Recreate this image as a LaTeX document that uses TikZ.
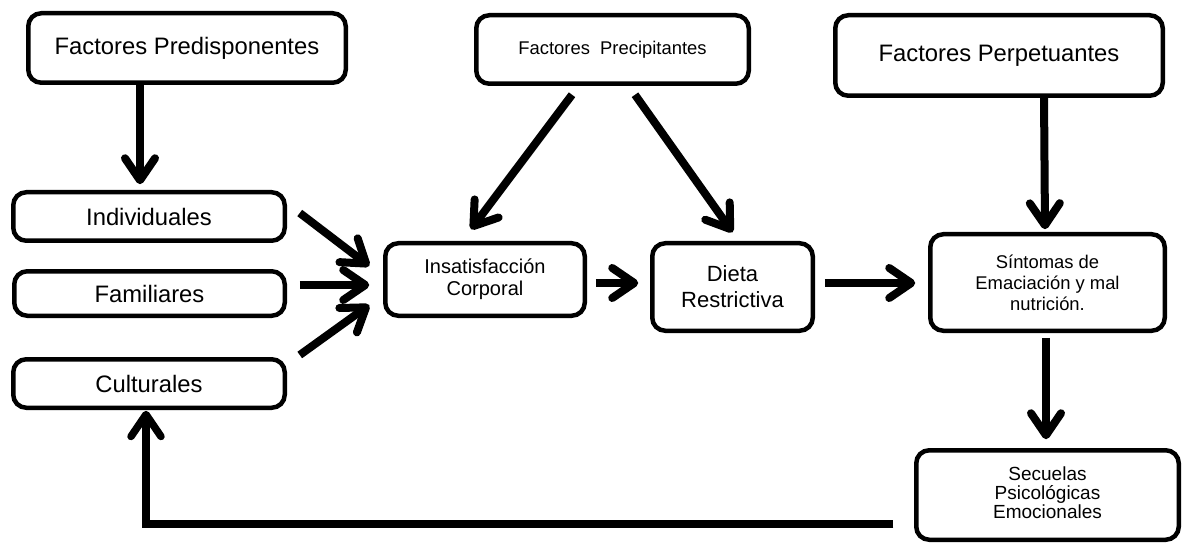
\documentclass[tikz,border=0pt]{standalone}
\usepackage{fontspec}
\setmainfont{Liberation Sans}
\usetikzlibrary{arrows.meta,calc}

\tikzset{
  box/.style={draw=black, line width=4.5pt, rounded corners=13pt, fill=white,
    align=center, inner sep=0pt, outer sep=0pt},
  flow/.style={line width=8pt,
    -{Straight Barb[round, length=22pt, width=30pt]}},
  bigtxt/.style={font=\fontsize{23.8pt}{28pt}\selectfont},
}

\begin{document}
\begin{tikzpicture}[x=1pt, y=-1pt]
\useasboundingbox (0,0) rectangle (1185,545);

% top row of factors
\node[box, bigtxt, minimum width=317.5pt, minimum height=69.5pt] (pred) at (187,48)
  {Factores Predisponentes};
\node[box, font=\fontsize{18.4pt}{22pt}\selectfont, minimum width=272.5pt, minimum height=68.5pt] (prec) at (612.5,49.5)
  {Factores\ \ Precipitantes};
\node[box, bigtxt, minimum width=327.5pt, minimum height=80.5pt] (perp) at (999,55.5)
  {Factores Perpetuantes};

% predisposing factors
\node[box, bigtxt, minimum width=271.5pt, minimum height=48.5pt] (indiv) at (149,216.5)
  {Individuales};
\node[box, bigtxt, minimum width=270.5pt, minimum height=44.5pt] (fam) at (149.5,293.5)
  {\raisebox{-6pt}{Familiares}};
\node[box, bigtxt, minimum width=271.5pt, minimum height=48.5pt] (cult) at (149,383.5)
  {\raisebox{-2pt}{Culturales}};

% main chain
\node[box, font=\fontsize{20pt}{22pt}\selectfont, minimum width=199.5pt, minimum height=72.5pt] (insat) at (485,279.5)
  {Insatisfacción\\Corporal};
\node[box, font=\fontsize{22pt}{26pt}\selectfont, minimum width=160.5pt, minimum height=87.5pt] (dieta) at (732.5,287)
  {Dieta\\Restrictiva};
\node[box, font=\fontsize{18.4pt}{21pt}\selectfont, minimum width=234.5pt, minimum height=96.5pt] (sint) at (1047.5,282.5)
  {Síntomas de\\Emaciación y mal\\nutrición.};
\node[box, font=\fontsize{19pt}{20.5pt}\selectfont, minimum width=262.5pt, minimum height=89.5pt] (sec) at (1047.5,495)
  {\raisebox{-4pt}{\begin{tabular}{@{}c@{}}Secuelas\\[-1.5pt]Psicológicas\\[-1.5pt]Emocionales\end{tabular}}};

% connectors
\draw[flow] ($(pred.south)+(-47,0)$) -- ($(indiv.north)+(-9,-8)$);
\draw[flow] ($(prec.south)+(-40.5,11)$) -- ($(insat.north)+(-14,-14)$);
\draw[flow] ($(prec.south)+(22.5,11)$) -- ($(dieta.north)+(0,-11)$);
\draw[flow] ($(perp.south)+(45,0)$) -- ($(sint.north)+(-2.5,-5)$);

\draw[flow] ($(indiv.east)+(15,-3.5)$) -- ($(insat.west)+(-16,-13.5)$);
\draw[flow] ($(fam.east)+(15,-8.5)$) -- ($(insat.west)+(-16,5.5)$);
\draw[flow] ($(cult.east)+(15,-28.5)$) -- ($(insat.west)+(-16,25.5)$);

\draw[flow] ($(insat.east)+(11,3.5)$) -- ($(dieta.west)+(-14,-4)$);
\draw[flow] ($(dieta.east)+(12,-4)$) -- ($(sint.west)+(-15,0.5)$);
\draw[flow] ($(sint.south)+(-1.5,7)$) -- ($(sec.north)+(-1.5,-11)$);

% feedback loop back to the cultural factors
\draw[flow, line width=7.5pt] ($(sec.west)+(-23,29)$) -| ($(cult.south)+(-3,3)$);
\end{tikzpicture}
\end{document}
